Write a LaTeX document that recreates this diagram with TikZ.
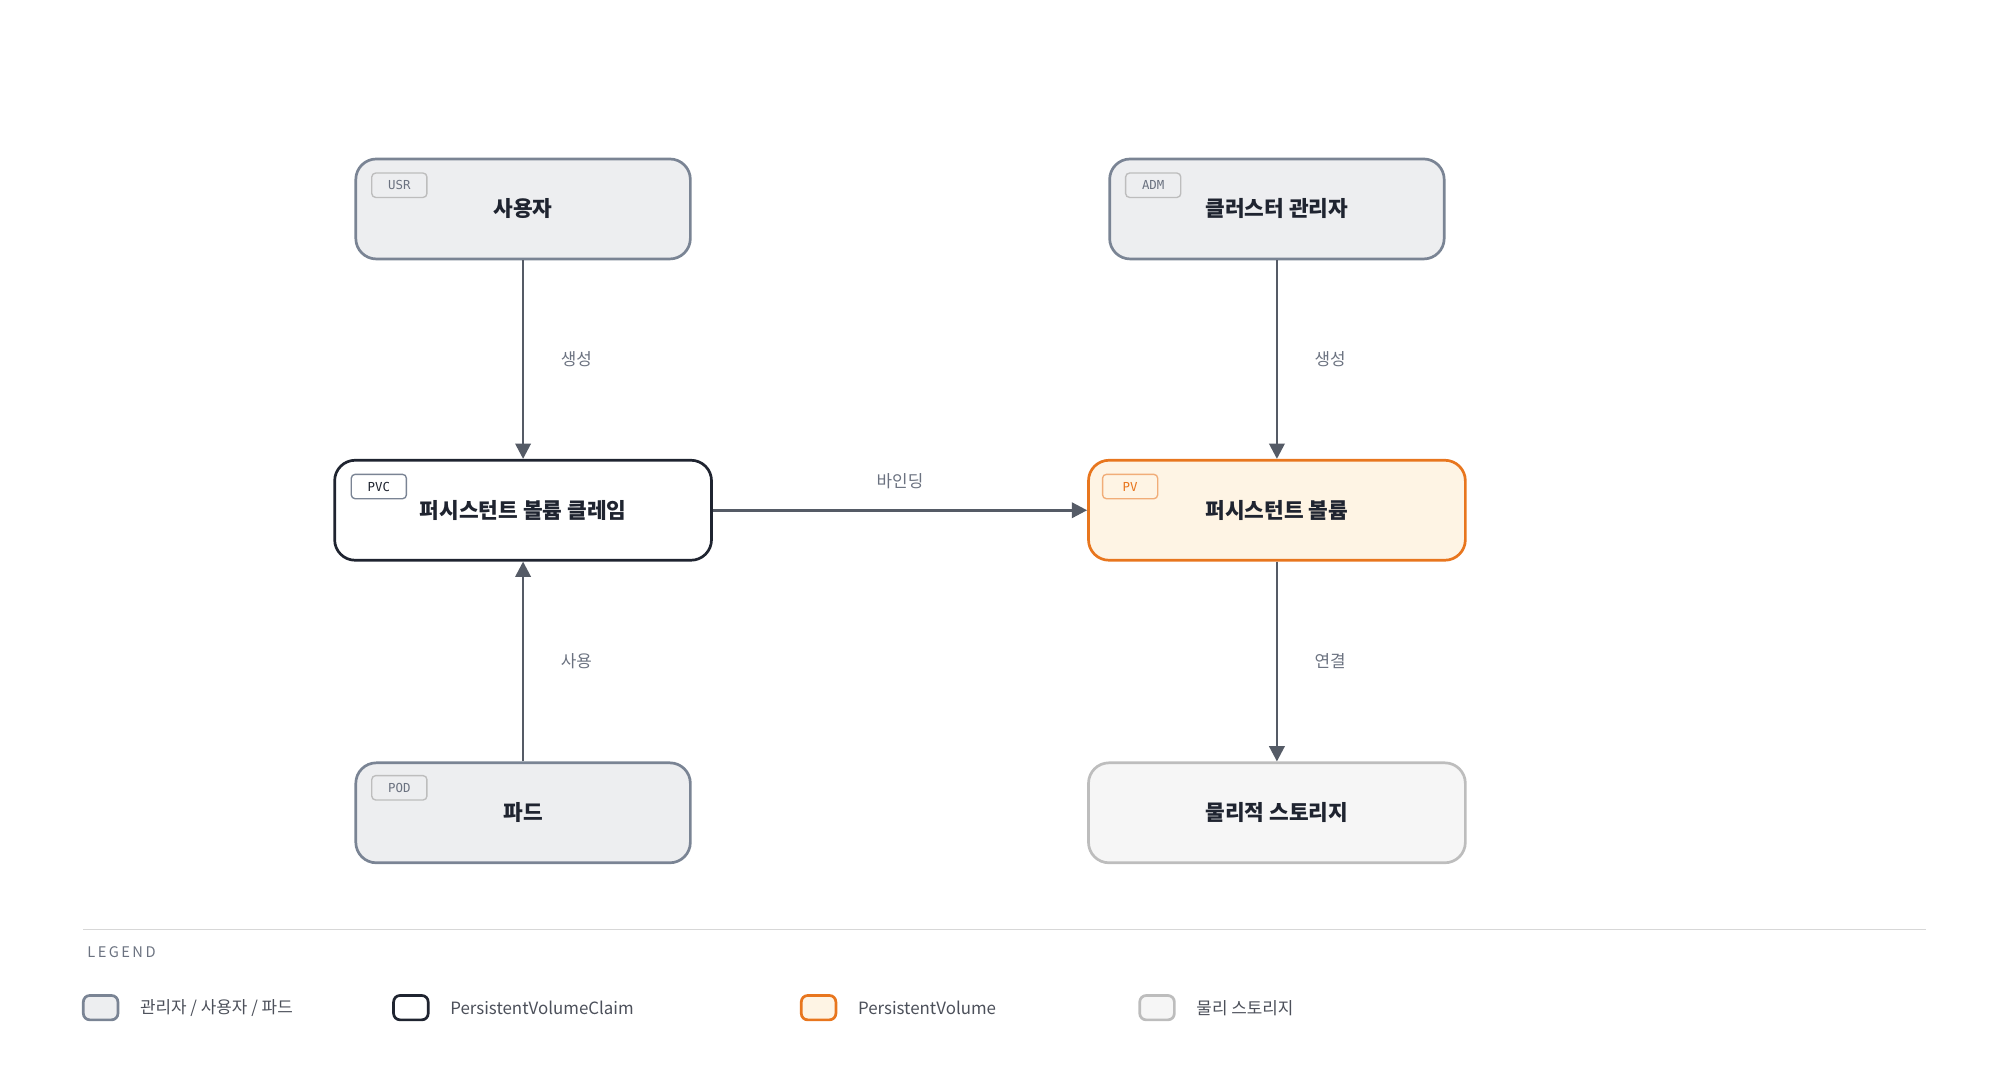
\documentclass[tikz,border=0pt]{standalone}
\usepackage{fontspec}
\setmainfont{Noto Sans CJK KR}
\newfontfamily\tagfont{DejaVu Sans Mono}
\usetikzlibrary{positioning,arrows.meta}
\definecolor{grayfill}{HTML}{EDEEF0}
\definecolor{graydraw}{HTML}{7A8494}
\definecolor{darkdraw}{HTML}{1F2430}
\definecolor{pvfill}{HTML}{FEF4E4}
\definecolor{pvdraw}{HTML}{E8761E}
\definecolor{stfill}{HTML}{F6F6F6}
\definecolor{stdraw}{HTML}{BDBDBD}
\definecolor{arrowc}{HTML}{555B66}
\definecolor{labelc}{HTML}{6B7280}
\definecolor{textc}{HTML}{1F2430}
\tikzset{
  box/.style={draw, rounded corners=3.2mm, line width=1.2pt, minimum height=1.56cm,
    text=textc, font=\fontsize{9.5}{11}\selectfont\bfseries},
  small/.style={box, minimum width=5.22cm},
  wide/.style={box, minimum width=5.88cm},
  actor/.style={fill=grayfill, draw=graydraw},
  tag/.style={draw, rounded corners=0.6mm, line width=0.6pt, minimum width=0.86cm,
    minimum height=0.38cm, inner sep=0pt, font=\tagfont\fontsize{5.5}{6}\selectfont},
  flow/.style={draw=arrowc, line width=1.2pt, -{Triangle[length=2.4mm,width=2.4mm]}},
  lbl/.style={text=labelc, font=\fontsize{7.5}{9}\selectfont},
  swatch/.style={draw, rounded corners=1mm, line width=1.2pt, minimum width=0.54cm, minimum height=0.38cm}
}
\begin{document}
\begin{tikzpicture}[x=0.02cm, y=-0.02cm]
  \useasboundingbox (0,0) rectangle (1560,845.5);

  % main boxes
  \node[small, actor] (usr) at (408,163) {사용자};
  \node[small, actor] (adm) at (996,163) {클러스터 관리자};
  \node[wide, draw=darkdraw, fill=white] (pvc) at (408,398) {퍼시스턴트 볼륨 클레임};
  \node[wide, draw=pvdraw, fill=pvfill] (pv) at (996,398) {퍼시스턴트 볼륨};
  \node[small, actor] (pod) at (408,634) {파드};
  \node[wide, draw=stdraw, fill=stfill] (disk) at (996,634) {물리적 스토리지};

  % tags
  \node[tag, draw=stdraw, fill=grayfill, text=labelc] at (311.5,144.5) {USR};
  \node[tag, draw=stdraw, fill=grayfill, text=labelc] at (899.5,144.5) {ADM};
  \node[tag, draw=graydraw, fill=white, text=darkdraw] at (295.5,379.5) {PVC};
  \node[tag, draw=pvdraw!60, fill=pvfill, text=pvdraw] at (881.5,379.5) {PV};
  \node[tag, draw=stdraw, fill=grayfill, text=labelc] at (311.5,614.5) {POD};

  % connectors
  \draw[flow] (usr) -- node[lbl, right=0.45cm] {생성} (pvc);
  \draw[flow] (adm) -- node[lbl, right=0.45cm] {생성} (pv);
  \draw[flow] (pvc) -- node[lbl, above=0.2cm] {바인딩} (pv);
  \draw[flow] (pod) -- node[lbl, right=0.45cm] {사용} (pvc);
  \draw[flow] (pv) -- node[lbl, right=0.45cm] {연결} (disk);

  % legend
  \draw[stdraw!60, line width=0.6pt] (65,725) -- (1502,725);
  \node[anchor=west, text=labelc, font=\fontsize{6.5}{8}\selectfont] at (62,743) {L\,E\,G\,E\,N\,D};
  \node[swatch, actor] (k1) at (78.5,786) {};
  \node[lbl, anchor=west, text=darkdraw!80, right=0.2cm of k1] {관리자 / 사용자 / 파드};
  \node[swatch, draw=darkdraw, fill=white] (k2) at (320.5,786) {};
  \node[lbl, anchor=west, text=darkdraw!80, right=0.2cm of k2] {PersistentVolumeClaim};
  \node[swatch, draw=pvdraw, fill=pvfill] (k3) at (638.5,786) {};
  \node[lbl, anchor=west, text=darkdraw!80, right=0.2cm of k3] {PersistentVolume};
  \node[swatch, draw=stdraw, fill=stfill] (k4) at (902.5,786) {};
  \node[lbl, anchor=west, text=darkdraw!80, right=0.2cm of k4] {물리 스토리지};
\end{tikzpicture}
\end{document}
